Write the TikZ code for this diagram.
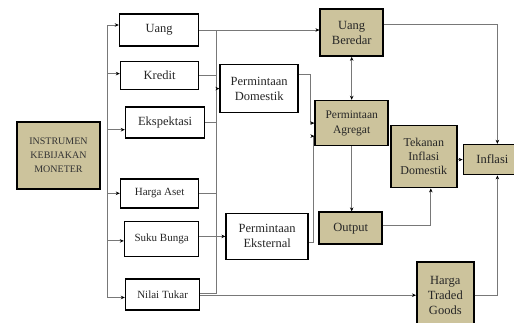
\documentclass[tikz,border=0pt]{standalone}
\usepackage{fontspec}
\setmainfont{Liberation Serif}
\usetikzlibrary{arrows.meta, positioning, calc}
\definecolor{krem}{RGB}{204,195,156}
\definecolor{abu}{RGB}{120,120,120}
\tikzset{
  kotak/.style={
    draw, line width=1.6pt, minimum width=78pt, minimum height=30pt,
    inner sep=1pt, align=center, text=black!85,
    font=\fontsize{12.5}{15}\selectfont
  },
  kotakK/.style={kotak, fill=krem},
  kotakKecil/.style={kotak, font=\fontsize{11}{13}\selectfont},
  garis/.style={line width=0.9pt, abu},
  panah/.style={-{Stealth[length=4pt, width=3.5pt, color=black]}, garis},
  panahDua/.style={{Stealth[length=4pt, width=3.5pt, color=black]}-{Stealth[length=4pt, width=3.5pt, color=black]}, garis},
}

\begin{document}
\begin{tikzpicture}
  \useasboundingbox (0,0) rectangle (514pt,-322pt);

  \node[kotakK, minimum width=83pt, minimum height=67pt, text=black!80,
        font=\fontsize{10}{14}\selectfont] (instrumen) at (58.5pt,-155.5pt)
    {INSTRUMEN\\KEBIJAKAN\\MONETER};

  % kolom saluran transmisi
  \node[kotak, minimum width=79pt, minimum height=32pt, right=18pt of instrumen, yshift=125.5pt] (uang) {Uang};
  \node[kotak, minimum height=28pt, below=14pt of uang, xshift=0.5pt] (kredit) {Kredit};
  \node[kotak, minimum width=79pt, minimum height=31pt, below=16pt of kredit, xshift=5.5pt] (ekspektasi) {Ekspektasi};
  \node[kotakKecil, minimum height=29pt, below=39pt of ekspektasi, xshift=-5.5pt] (hargaaset) {Harga Aset};
  \node[kotakKecil, minimum width=74pt, minimum height=35pt, below=12pt of hargaaset, xshift=2pt] (sukubunga) {Suku Bunga};
  \node[kotakKecil, minimum width=74pt, minimum height=31pt, below=21pt of sukubunga, xshift=1pt] (nilaitukar) {Nilai Tukar};

  \node[kotak, minimum height=48pt, right=20pt of kredit, yshift=-13pt] (domestik) {Permintaan\\Domestik};
  \node[kotak, minimum width=82pt, minimum height=46pt, right=26pt of sukubunga, yshift=2.5pt] (eksternal) {Permintaan\\Eksternal};

  % sisi kanan
  \node[kotakK, minimum width=63pt, minimum height=47pt, right=120pt of uang, yshift=-2.5pt] (beredar) {Uang\\Beredar};
  \node[kotakK, minimum width=73pt, minimum height=45pt, below=43pt of beredar,
        font=\fontsize{11.5}{15}\selectfont] (agregat) {Permintaan\\Agregat};
  \node[kotakK, minimum width=63pt, minimum height=32pt, below=65pt of agregat, xshift=-1pt] (output) {Output};
  \node[kotakK, minimum width=66pt, minimum height=62pt, right=1pt of agregat, yshift=-33.5pt,
        font=\fontsize{12}{14}\selectfont] (tekanan) {Tekanan\\Inflasi\\Domestik};
  \node[kotakK, minimum width=58pt, minimum height=30pt, right=5pt of tekanan, yshift=-3pt] (inflasi) {Inflasi};
  \node[kotakK, minimum width=57pt, minimum height=66pt, below=73pt of tekanan, xshift=21.5pt] (traded) {Harga\\Traded\\Goods};

  % instrumen ke saluran
  \coordinate (kiri) at ($(instrumen.east)+(7pt,0)$);
  \draw[panah] (kiri) |- ([yshift=5pt]uang.west);
  \draw[panah] (kiri) |- ([yshift=2pt]kredit.west);
  \draw[panah] (kiri) |- ([yshift=-7pt]ekspektasi.west);
  \draw[panah] (kiri) |- (hargaaset.west);
  \draw[panah] (kiri) |- ([yshift=-2pt]sukubunga.west);
  \draw[panah] (kiri) |- ([yshift=-3pt]nilaitukar.west);

  % saluran ke permintaan
  \coordinate (kanan) at ($(uang.east)+(17pt,0)$);
  \draw[panah] (uang.east) -- (uang.east -| beredar.west);
  \draw[garis] ([yshift=1.5pt]nilaitukar.east) -| (kanan);
  \draw[garis] (kredit.east) -- (kredit.east -| kanan);
  \draw[garis] (ekspektasi.east) -- (ekspektasi.east -| kanan);
  \draw[garis] (hargaaset.east) -- (hargaaset.east -| kanan);
  \draw[panah] (kanan |- domestik.west) -- (domestik.west);
  \draw[panah] (sukubunga.east |- eksternal.west) -- (eksternal.west);
  \draw[panah] (traded.west -| nilaitukar.east) -- (traded.west);

  % permintaan ke inflasi
  \draw[panah] ([yshift=14pt]domestik.east) -- ++(11pt,0) |- (agregat.west);
  \draw[panah] ([yshift=-6pt]eksternal.east) -- ++(4pt,0) |- ([yshift=-13pt]agregat.west);
  \draw[panahDua] (beredar) -- (agregat);
  \draw[panah] (agregat) -- (agregat |- output.north);
  \draw[panah] ([yshift=3pt]output.east) -| ([xshift=7pt]tekanan.south);
  \draw[panah] (tekanan.east |- inflasi.west) -- (inflasi.west);
  \draw[panah] ([yshift=8.5pt]beredar.east) -| ([xshift=5pt]inflasi.north);
  \draw[panah] (traded.east) -| ([xshift=5pt]inflasi.south);
\end{tikzpicture}
\end{document}
